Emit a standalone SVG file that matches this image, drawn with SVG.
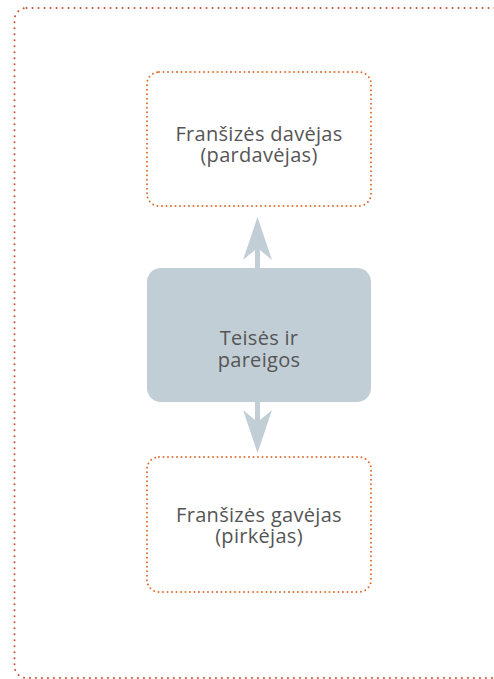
<svg xmlns="http://www.w3.org/2000/svg" width="494" height="679" viewBox="0 0 494 679">
<style>
.frame{fill:none;stroke:#c8502a;stroke-width:2;stroke-linecap:round;stroke-dasharray:0 6}
.box{fill:none;stroke:#e07030;stroke-width:2;stroke-linecap:round;stroke-dasharray:0 4.5}
.lbl{font-family:"Open Sans","DejaVu Sans",sans-serif;font-size:20px;letter-spacing:0.3px;fill:#555;text-anchor:middle}
.arr{fill:#c2ced6}
</style>
<rect class="frame" x="14.5" y="8" width="500" height="670" rx="12"/>
<g id="connectors">
<path class="arr" d="M255,268 L255,250 L243,260 L257.5,217 L272,260 L260,250 L260,268 Z"/>
<path class="arr" d="M255,402 L255,420 L243,410 L257.5,453 L272,410 L260,420 L260,402 Z"/>
</g>
<g id="giver">
<rect class="box" x="147" y="72" width="224" height="134" rx="12"/>
<text class="lbl" x="259" y="141">Franšizės davėjas</text>
<text class="lbl" x="259" y="162">(pardavėjas)</text>
</g>
<g id="rights">
<rect x="147" y="268" width="224" height="134" rx="14" fill="#c2ced6"/>
<text class="lbl" x="259" y="345">Teisės ir</text>
<text class="lbl" x="259" y="367">pareigos</text>
</g>
<g id="receiver">
<rect class="box" x="147" y="457" width="224" height="135" rx="12"/>
<text class="lbl" x="259" y="522">Franšizės gavėjas</text>
<text class="lbl" x="259" y="543">(pirkėjas)</text>
</g>
</svg>
